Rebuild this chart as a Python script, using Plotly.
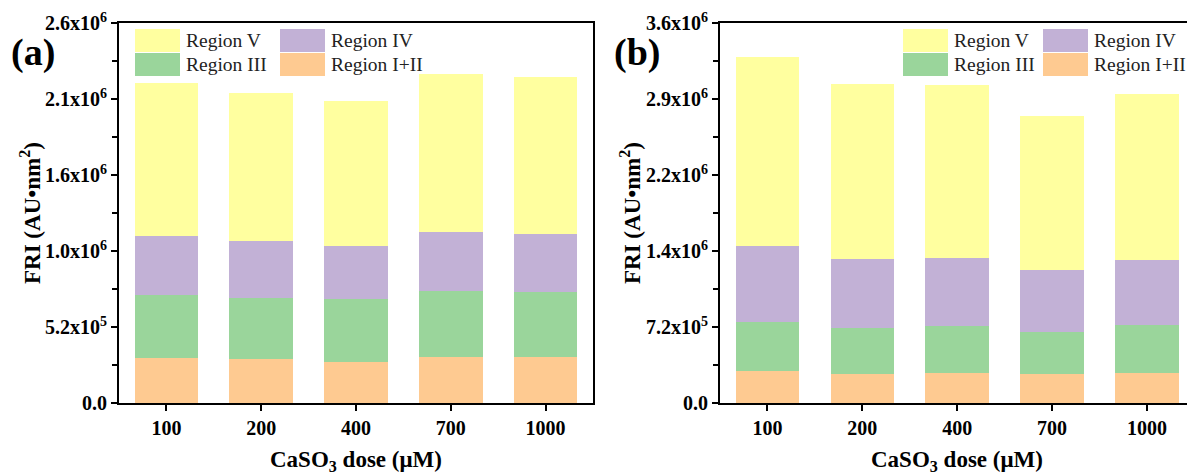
import plotly.graph_objects as go

W, H = 1187, 475

doses = ["100", "200", "400", "700", "1000"]
region_names = ["Region I+II", "Region III", "Region IV", "Region V"]
region_colors = ["#FECA91", "#9AD59B", "#C2B1D6", "#FFFF9F"]

# Panel (a) stacked segment values (AU·nm²)
a_I_II = [0.310e6, 0.299e6, 0.278e6, 0.315e6, 0.315e6]
a_III = [0.429e6, 0.419e6, 0.434e6, 0.451e6, 0.442e6]
a_IV = [0.404e6, 0.390e6, 0.360e6, 0.406e6, 0.399e6]
a_V = [1.044e6, 1.011e6, 0.994e6, 1.079e6, 1.072e6]

# Panel (b)
b_I_II = [0.303e6, 0.275e6, 0.287e6, 0.272e6, 0.287e6]
b_III = [0.467e6, 0.439e6, 0.442e6, 0.401e6, 0.452e6]
b_IV = [0.720e6, 0.653e6, 0.645e6, 0.587e6, 0.613e6]
b_V = [1.791e6, 1.655e6, 1.635e6, 1.459e6, 1.575e6]

a_tickvals = [0, 0.52e6, 1.04e6, 1.56e6, 2.08e6, 2.6e6]
a_ticktext = ["0.0", "5.2x10<sup>5</sup>", "1.0x10<sup>6</sup>", "1.6x10<sup>6</sup>",
              "2.1x10<sup>6</sup>", "2.6x10<sup>6</sup>"]
b_tickvals = [0, 0.72e6, 1.44e6, 2.16e6, 2.88e6, 3.6e6]
b_ticktext = ["0.0", "7.2x10<sup>5</sup>", "1.4x10<sup>6</sup>", "2.2x10<sup>6</sup>",
              "2.9x10<sup>6</sup>", "3.6x10<sup>6</sup>"]

x_title = "CaSO<sub>3</sub> dose (μM)"
y_title = "FRI (AU•nm<sup>2</sup>)"

FONT = "Liberation Serif, Times New Roman, serif"


def px(x):
    return x / W


def py(y):
    return 1 - y / H


fig = go.Figure()

panels = [
    ("x", "y", [a_I_II, a_III, a_IV, a_V]),
    ("x2", "y2", [b_I_II, b_III, b_IV, b_V]),
]
for xa, ya, series in panels:
    for name, color, vals in zip(region_names, region_colors, series):
        fig.add_trace(go.Bar(
            x=doses, y=vals, name=name, xaxis=xa, yaxis=ya,
            marker=dict(color=color, line=dict(width=0)),
            width=0.67, showlegend=False,
        ))

axis_common = dict(
    showline=True, linecolor="black", linewidth=2,
    ticks="outside", ticklen=6, tickwidth=1.5, tickcolor="black",
    showgrid=False, zeroline=False, automargin=False,
    tickfont=dict(family=FONT, size=20, color="black", weight="bold"),
)
minor_a = dict(tickmode="linear", tick0=0, dtick=0.26e6, ticks="outside",
               ticklen=5, tickwidth=1.5, tickcolor="black")
minor_b = dict(tickmode="linear", tick0=0, dtick=0.36e6, ticks="outside",
               ticklen=5, tickwidth=1.5, tickcolor="black")

fig.update_layout(
    template="none",
    width=W, height=H, margin=dict(l=0, r=0, t=0, b=0, pad=0, autoexpand=False),
    paper_bgcolor="white", plot_bgcolor="white",
    barmode="stack", showlegend=False,
    xaxis=dict(domain=[px(119), px(593)], anchor="y", type="category",
               categoryorder="array", categoryarray=doses, range=[-0.5, 4.5],
               mirror=True, **axis_common),
    yaxis=dict(domain=[py(403), py(23)], anchor="x", range=[0, 2.6e6],
               tickmode="array", tickvals=a_tickvals, ticktext=a_ticktext,
               mirror=True, minor=minor_a, **axis_common),
    xaxis2=dict(domain=[px(720), 1.0], anchor="y2", type="category",
                categoryorder="array", categoryarray=doses, range=[-0.5, 4.422],
                mirror=True, **axis_common),
    yaxis2=dict(domain=[py(403), py(23)], anchor="x2", range=[0, 3.6e6],
                tickmode="array", tickvals=b_tickvals, ticktext=b_ticktext,
                mirror=False, minor=minor_b, **axis_common),
)

annotations = []
shapes = []

# axis titles and panel labels
for cx in (30, 630):
    annotations.append(dict(x=px(cx), y=py(213), xref="paper", yref="paper", text=y_title,
                            textangle=-90, showarrow=False, xanchor="center", yanchor="middle",
                            font=dict(family=FONT, size=23, color="black", weight="bold")))
for cx in (356, 957):
    annotations.append(dict(x=px(cx), y=py(461), xref="paper", yref="paper", text=x_title,
                            showarrow=False, xanchor="center", yanchor="middle",
                            font=dict(family=FONT, size=23, color="black", weight="bold")))
for cx, lab in ((33, "(a)"), (637, "(b)")):
    annotations.append(dict(x=px(cx), y=py(53), xref="paper", yref="paper", text=lab,
                            showarrow=False, xanchor="center", yanchor="middle",
                            font=dict(family=FONT, size=38, color="black", weight="bold")))

# legends (2 x 2 blocks)
legend_order = [(3, 0, 0), (2, 0, 1), (1, 1, 0), (0, 1, 1)]  # (region idx, row, col)
for col_x in ((135, 280), (903, 1043)):
    for ridx, row, col in legend_order:
        x0 = col_x[col]
        y0 = 29 + row * 24
        shapes.append(dict(type="rect", xref="paper", yref="paper",
                           x0=px(x0), x1=px(x0 + 45), y0=py(y0), y1=py(y0 + 23),
                           fillcolor=region_colors[ridx], line=dict(width=0), layer="above"))
        annotations.append(dict(x=px(x0 + 49), y=py(y0 + 11.5), xref="paper", yref="paper",
                                text=region_names[ridx], showarrow=False,
                                xanchor="left", yanchor="middle",
                                font=dict(family=FONT, size=19.5, color="#222222")))

fig.update_layout(annotations=annotations, shapes=shapes)

fig.write_html("out.html")
